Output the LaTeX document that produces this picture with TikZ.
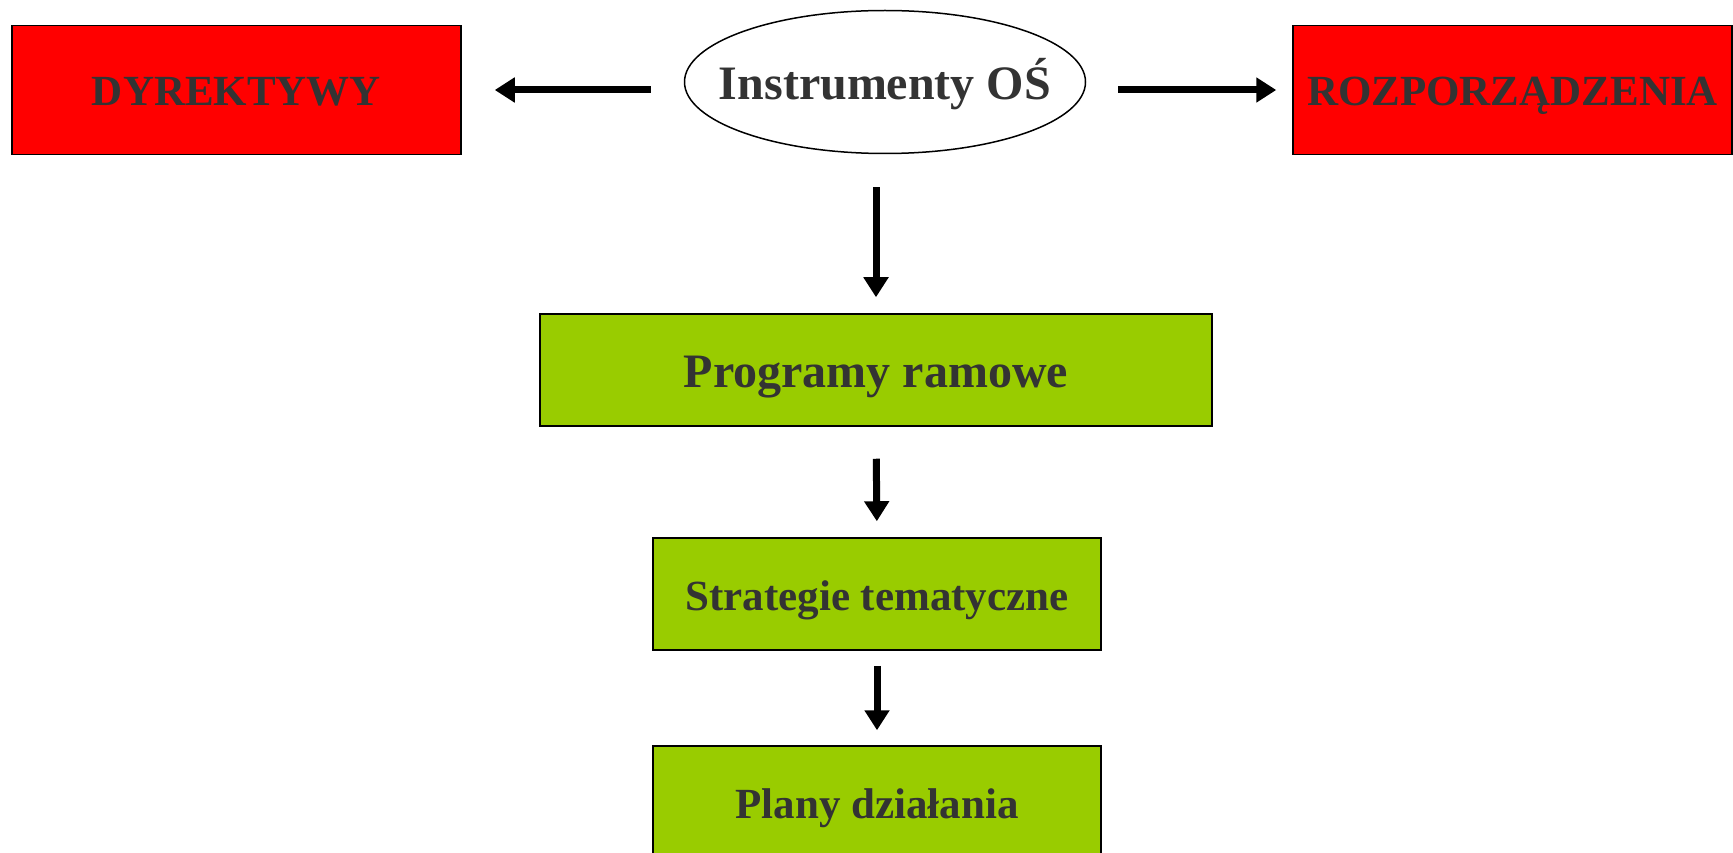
\documentclass[tikz,border=0pt]{standalone}
\usepackage{fontspec}
\setmainfont{Liberation Serif}
\usetikzlibrary{arrows.meta,shapes.geometric}
\definecolor{boxred}{HTML}{FF0000}
\definecolor{boxgreen}{HTML}{99CC00}
\definecolor{txt}{HTML}{333333}
\tikzset{
  small text/.style={text=txt, font=\bfseries\fontsize{43}{50}\selectfont, text height=32pt, text depth=0pt},
  big text/.style={text=txt, font=\bfseries\fontsize{48}{55}\selectfont, text height=35pt, text depth=0pt},
  redbox/.style={draw=black, line width=1.5pt, fill=boxred, inner sep=0pt, small text,
    minimum height=129pt},
  greenbox/.style={draw=black, line width=1.5pt, fill=boxgreen, inner sep=0pt, small text,
    minimum height=112pt},
  oval/.style={ellipse, draw=black, line width=1.5pt, fill=white, inner sep=0pt, big text,
    minimum width=401pt, minimum height=143pt},
  flow/.style={line width=7pt, -{Triangle[length=20pt,width=24pt]}}
}
\begin{document}
\begin{tikzpicture}[x=1pt,y=-1pt]
\useasboundingbox (0,0) rectangle (1733,853);
\fill[white] (0,0) rectangle (1733,853);
\node[redbox, minimum width=449pt] (dyr) at (236.5,90) {DYREKTYWY};
\node[redbox, minimum width=439pt] (roz) at (1512.5,90) {ROZPORZĄDZENIA};
\node[oval] (ins) at (885,82) {\makebox[0pt]{Instrumenty OŚ}};
\node[greenbox, minimum width=672pt, big text] (prog) at (876,370) {Programy ramowe};
\node[greenbox, minimum width=448pt] (strat) at (877,594) {Strategie tematyczne};
\node[greenbox, minimum width=448pt] (plan) at (877,802) {Plany działania};
\draw[flow, shorten <=33pt, shorten >=33pt] (dyr.east -| ins.west) -- (dyr.east);
\draw[flow, shorten <=32pt, shorten >=16pt] (roz.west -| ins.east) -- (roz.west);
\draw[flow, shorten <=33pt, shorten >=16pt] (ins.south -| prog.north) -- (prog.north);
\draw[flow, shorten <=32pt, shorten >=16pt] (prog.south) -- (strat.north);
\draw[flow, shorten <=15pt, shorten >=15pt] (strat.south) -- (plan.north);
\end{tikzpicture}
\end{document}
